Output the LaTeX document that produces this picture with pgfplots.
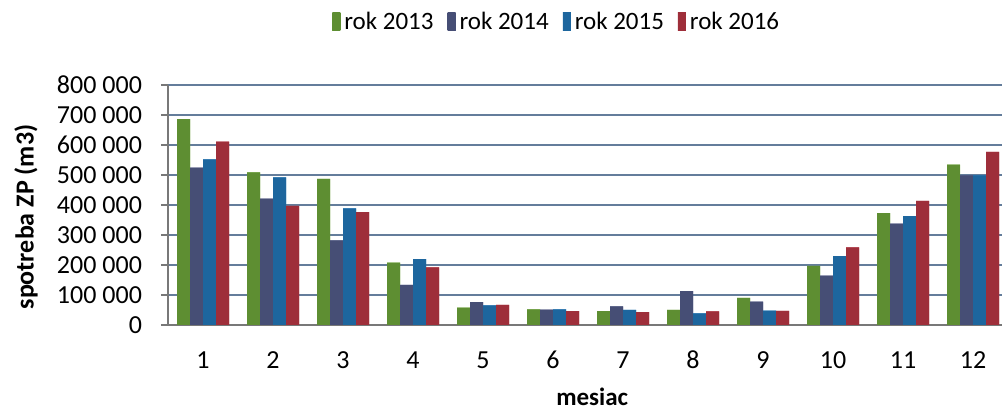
\documentclass[border=0pt]{standalone}
\usepackage{fontspec}
\setmainfont{Carlito}
\usepackage{pgfplots}
\pgfplotsset{compat=1.18}
\definecolor{cgreen}{RGB}{118,178,62}
\definecolor{cpurple}{RGB}{88,98,146}
\definecolor{cblue}{RGB}{36,128,198}
\definecolor{cred}{RGB}{198,58,72}
\definecolor{cgrid}{RGB}{100,125,155}
\definecolor{caxis}{RGB}{120,120,120}
\begin{document}
\begin{tikzpicture}
\path[use as bounding box] (0,0) rectangle (501pt,206pt);
\begin{axis}[
  at={(84pt,43.5pt)}, anchor=south west,
  scale only axis, width=420pt, height=120pt,
  ybar=0pt, bar width=6.5pt,
  xmin=0.5, xmax=12.5, ymin=0, ymax=800000,
  xtick={1,...,12},
  xticklabels={1,2,3,4,5,6,7,8,9,10,11,12},
  minor xtick={0.5,1.5,...,12.5},
  ytick={0,100000,...,800000},
  yticklabels={0,100 000,200 000,300 000,400 000,500 000,600 000,700 000,800 000},
  scaled y ticks=false,
  axis x line*=bottom, axis y line*=left,
  axis line style={caxis, line width=0.8pt},
  tick align=outside,
  x tick style={draw=none},
  minor x tick style={caxis, line width=0.6pt},
  minor tick length=2.5pt,
  y tick style={caxis, line width=0.6pt},
  major tick length=3.5pt,
  ymajorgrids, grid style={cgrid, line width=0.8pt},
  tick label style={font=\fontsize{13}{15}\selectfont, black},
  xticklabel style={anchor=center, yshift=-14pt},
  yticklabel style={anchor=east, xshift=-6pt},
  xlabel={mesiac}, ylabel={spotreba ZP (m3)},
  xlabel style={font=\bfseries\fontsize{12.5}{14}\selectfont, at={(axis description cs:0.505,0)}, anchor=center, yshift=-36pt},
  ylabel style={font=\bfseries\fontsize{13}{15}\selectfont, at={(axis description cs:0,0.45)}, anchor=center, yshift=71pt},
  legend columns=4,
  legend style={draw=none, fill=none, at={(0.464,1.26)}, anchor=center,
    font=\fontsize{12.5}{14}\selectfont,
    /tikz/every even column/.append style={column sep=5pt}},
  legend image code/.code={\fill[#1] (0pt,-4pt) rectangle (4pt,5pt);},
  every axis plot/.append style={draw=none},
]
\addplot[fill=cgreen, left color=cgreen!80!black, middle color=cgreen!80!white, right color=cgreen!80!black] coordinates {
(1,686000) (2,509000) (3,487000) (4,208000) (5,58000) (6,52000)
(7,46000) (8,50000) (9,90000) (10,197000) (11,373000) (12,535000)};
\addplot[fill=cpurple, left color=cpurple!80!black, middle color=cpurple!80!white, right color=cpurple!80!black] coordinates {
(1,525000) (2,421000) (3,282000) (4,134000) (5,76000) (6,51000)
(7,62000) (8,113000) (9,78000) (10,165000) (11,338000) (12,499000)};
\addplot[fill=cblue, left color=cblue!80!black, middle color=cblue!80!white, right color=cblue!80!black] coordinates {
(1,552000) (2,492000) (3,389000) (4,220000) (5,65000) (6,52000)
(7,50000) (8,39000) (9,48000) (10,230000) (11,363000) (12,499000)};
\addplot[fill=cred, left color=cred!80!black, middle color=cred!80!white, right color=cred!80!black] coordinates {
(1,611000) (2,397000) (3,376000) (4,192000) (5,67000) (6,46000)
(7,43000) (8,45000) (9,47000) (10,259000) (11,414000) (12,577000)};
\legend{rok 2013, rok 2014, rok 2015, rok 2016}
\end{axis}
\end{tikzpicture}
\end{document}
